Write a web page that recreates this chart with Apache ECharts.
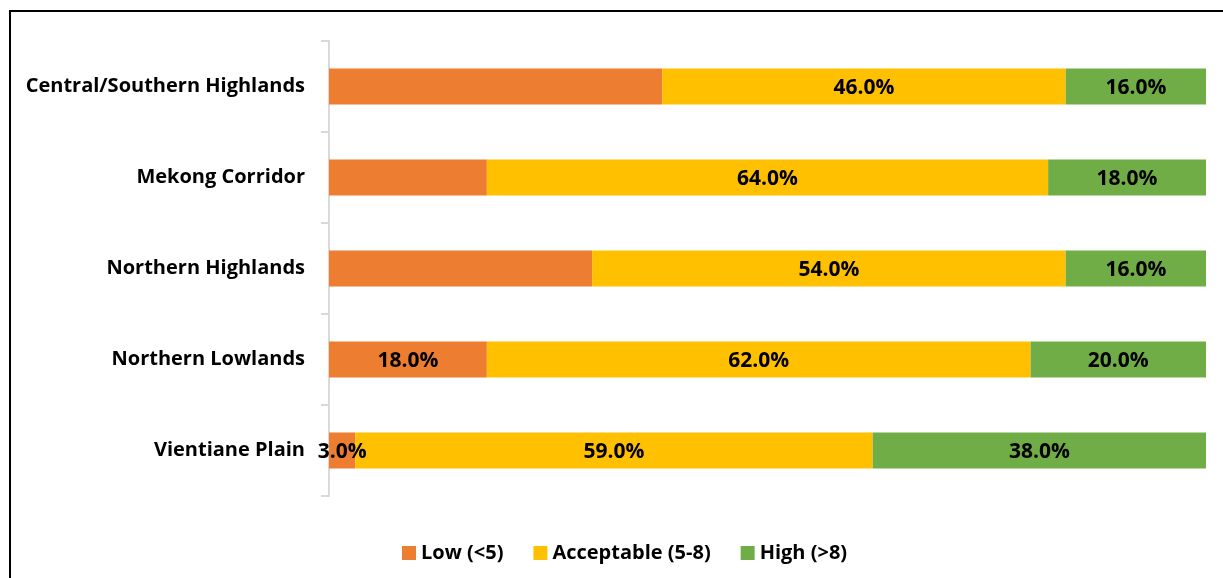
<!DOCTYPE html>
<html>
<head>
<meta charset="utf-8">
<script src="https://cdn.jsdelivr.net/npm/echarts@6/dist/echarts.min.js"></script>
<style>
  html, body { margin: 0; padding: 0; background: #fff; }
  #main { width: 1223px; height: 578px; }
</style>
</head>
<body>
<div id="main"></div>
<script>
// regions, top to bottom
var categories = ['Central/Southern Highlands', 'Mekong Corridor', 'Northern Highlands', 'Northern Lowlands', 'Vientiane Plain'];
var lowValues = [38, 18, 30, 18, 3];
var acceptableValues = [46, 64, 54, 62, 59];
var highValues = [16, 18, 16, 20, 38];
// the Low labels are only printed for the last two rows in the original
var lowLabelShown = [false, false, false, true, true];

var fontFamily = '"Open Sans", "Liberation Sans", sans-serif';

function pct(v) {
    return v.toFixed(1) + '%';
}

var myChart = echarts.init(document.getElementById('main'));

var barLabel = {
    show: true,
    position: 'inside',
    offset: [0, 2],
    color: '#000',
    fontWeight: 'bold',
    fontSize: 21,
    fontFamily: fontFamily
};

var option = {
    animation: false,
    graphic: [{
        type: 'polyline',
        shape: { points: [[10, 580], [10, 11], [1225, 11]] },
        style: { stroke: '#000', lineWidth: 2, fill: null }
    }],
    legend: {
        left: 397,
        top: 538,
        itemWidth: 14,
        itemHeight: 14,
        itemGap: 30,
        icon: 'rect',
        textStyle: { fontSize: 20, fontWeight: 'bold', color: '#000', fontFamily: fontFamily },
        data: ['Low (<5)', 'Acceptable (5-8)', 'High (>8)']
    },
    grid: {
        left: 329,
        right: 17,
        top: 41,
        bottom: 82
    },
    xAxis: {
        type: 'value',
        min: 0,
        max: 100,
        show: false
    },
    yAxis: {
        type: 'category',
        inverse: true,
        data: categories,
        axisLine: { show: true, lineStyle: { color: '#d9d9d9', width: 2 } },
        axisTick: { show: true, length: 8, lineStyle: { color: '#d9d9d9', width: 2 } },
        axisLabel: {
            margin: 24,
            padding: [4, 0, 0, 0],
            color: '#000',
            fontWeight: 'bold',
            fontSize: 20,
            fontFamily: fontFamily
        }
    },
    series: [{
            name: 'Low (<5)',
            type: 'bar',
            stack: 'total',
            barWidth: 36,
            itemStyle: { color: '#ED7D31' },
            label: Object.assign({}, barLabel, {
                formatter: function (p) {
                    return lowLabelShown[p.dataIndex] ? pct(p.value) : '';
                }
            }),
            data: lowValues
        },
        {
            name: 'Acceptable (5-8)',
            type: 'bar',
            stack: 'total',
            barWidth: 36,
            itemStyle: { color: '#FFC000' },
            label: Object.assign({}, barLabel, {
                formatter: function (p) { return pct(p.value); }
            }),
            data: acceptableValues
        },
        {
            name: 'High (>8)',
            type: 'bar',
            stack: 'total',
            barWidth: 36,
            itemStyle: { color: '#70AD47' },
            label: Object.assign({}, barLabel, {
                formatter: function (p) { return pct(p.value); }
            }),
            data: highValues
        }
    ]
};

myChart.setOption(option);
</script>
</body>
</html>
